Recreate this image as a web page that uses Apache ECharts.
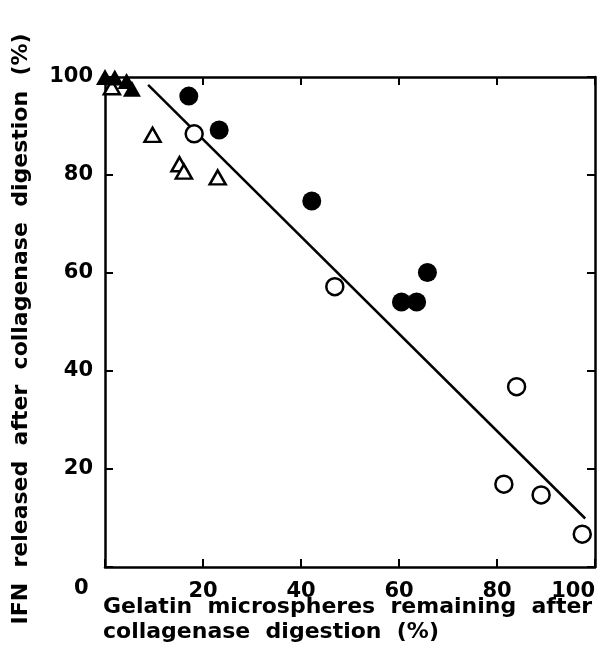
<!DOCTYPE html>
<html>
<head>
<meta charset="utf-8">
<script src="https://cdn.jsdelivr.net/npm/echarts@6/dist/echarts.min.js"></script>
<style>html,body{margin:0;padding:0;background:#fff;}#c{width:616px;height:667px;}</style>
</head>
<body>
<div id="c"></div>
<script>
// ---- data ----
const xTicks = [0, 20, 40, 60, 80, 100];
const yTicks = [0, 20, 40, 60, 80, 100];
const filledCircles = [[17.1, 96.1], [23.3, 89.2], [42.2, 74.7], [60.5, 54.1], [63.6, 54.1], [65.8, 60.1]];
const openCircles = [[18.2, 88.4], [46.9, 57.2], [84.0, 36.8], [81.4, 16.9], [89.0, 14.7], [97.4, 6.7]];
const openTriangles = [[9.7, 88.2], [15.2, 82.2], [16.1, 80.7], [23.0, 79.5], [1.4, 97.9]];
const filledTriangles = [[0.0, 100], [2.0, 99.9], [4.4, 99.2], [5.5, 97.6]];
const regressionLine = [[8.8, 98.4], [98.0, 9.9]];
const xTitle = ['Gelatin  microspheres  remaining  after', 'collagenase  digestion  (%)'];
const yTitle = 'IFN  released  after  collagenase  digestion  (%)';

const FONT = '"DejaVu Sans", "Open Sans", sans-serif';
const chart = echarts.init(document.getElementById('c'));
const axisCommon = {
  type: 'value', min: 0, max: 100, interval: 20,
  splitLine: {show: false},
  axisLine: {show: true, onZero: false, lineStyle: {color: '#000', width: 2.5}},
  axisTick: {show: true, inside: true, length: 8, lineStyle: {color: '#000', width: 2}}
};
const labelStyle = {color: '#000', fontFamily: FONT, fontWeight: 'bold', fontSize: 21};
chart.setOption({
  animation: false,
  backgroundColor: '#fff',
  grid: {left: 105, right: 21, top: 77, bottom: 100},
  xAxis: [
    Object.assign({}, axisCommon, {position: 'bottom',
      axisLabel: Object.assign({}, labelStyle, {margin: 14, formatter: v => v === 0 ? '' : String(v), alignMaxLabel: 'right'})}),
    Object.assign({}, axisCommon, {position: 'top', axisLabel: {show: false}})
  ],
  yAxis: [
    Object.assign({}, axisCommon, {position: 'left',
      axisLabel: Object.assign({}, labelStyle, {margin: 12, formatter: v => v === 0 ? '' : String(v)}),
      name: yTitle, nameLocation: 'middle', nameGap: 73,
      nameTextStyle: {color: '#000', fontFamily: FONT, fontWeight: 'bold', fontSize: 22, padding: [0, 14, 0, 0]}}),
    Object.assign({}, axisCommon, {position: 'right', axisLabel: {show: false}})
  ],
  graphic: [
    {type: 'text', left: 74, top: 578, style: {text: String(xTicks[0]), font: 'bold 21px ' + FONT, fill: '#000'}},
    {type: 'text', left: 103, top: 596, style: {text: xTitle[0], font: 'bold 22px ' + FONT, fill: '#000'}},
    {type: 'text', left: 103, top: 621, style: {text: xTitle[1], font: 'bold 22px ' + FONT, fill: '#000'}}
  ],
  series: [
    {type: 'line', data: regressionLine, symbol: 'none', lineStyle: {color: '#000', width: 2.5}, z: 1},
    {type: 'scatter', data: openTriangles, symbol: 'triangle', symbolSize: [16, 14],
      itemStyle: {color: '#fff', borderColor: '#000', borderWidth: 2.5, opacity: 1}, z: 2},
    {type: 'scatter', data: filledTriangles, symbol: 'triangle', symbolSize: [18, 16],
      itemStyle: {color: '#000', opacity: 1}, z: 3},
    {type: 'scatter', data: openCircles, symbol: 'circle', symbolSize: 17,
      itemStyle: {color: '#fff', borderColor: '#000', borderWidth: 2.5, opacity: 1}, z: 3},
    {type: 'scatter', data: filledCircles, symbol: 'circle', symbolSize: 19,
      itemStyle: {color: '#000', opacity: 1}, z: 3}
  ]
});
</script>
</body>
</html>
